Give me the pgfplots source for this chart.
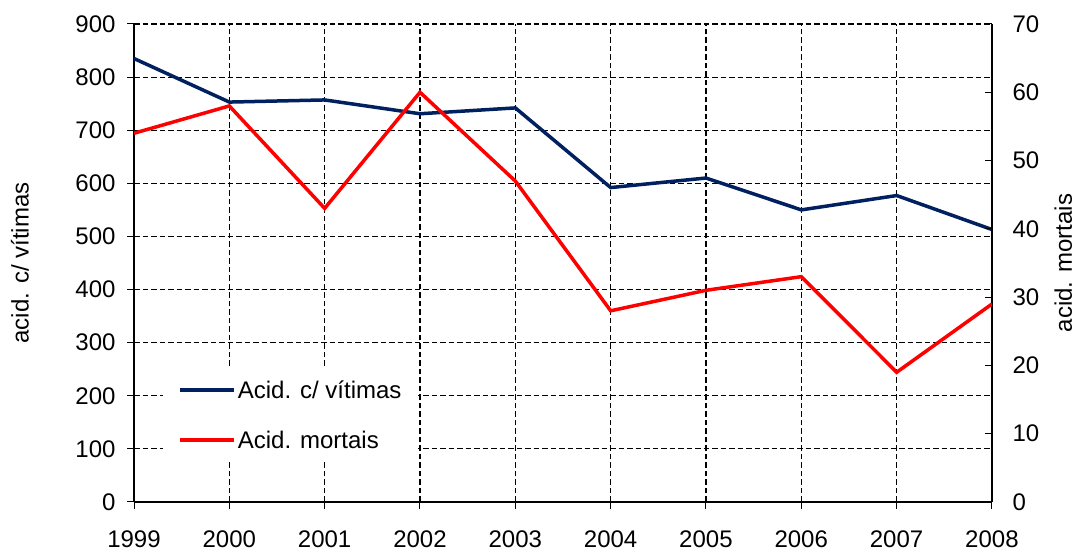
\documentclass[border=0pt]{standalone}
\usepackage{fontspec}
\setmainfont{Liberation Sans}
\usepackage{pgfplots}
\pgfplotsset{compat=1.18}
\definecolor{navy}{RGB}{0,32,96}
\begin{document}
\begin{tikzpicture}
\pgfplotsset{every axis/.append style={font=\fontsize{24}{28}\selectfont,
  /pgf/number format/assume math mode=true}}
\begin{axis}[name=ax,
  scale only axis, width=858pt, height=478pt,
  xmin=1999, xmax=2008, ymin=0, ymax=900,
  xtick={1999,...,2008}, ytick={0,100,...,900},
  xticklabel style={/pgf/number format/1000 sep={}, yshift=-18pt},
  yticklabel style={xshift=-8pt},
  axis x line=bottom, axis y line=left,
  axis line style={-, line width=1.3pt},
  tick align=outside, major tick length=7pt,
  tick style={black, line width=1pt},
  xmajorgrids, ymajorgrids,
  grid style={black, line width=1.2pt, dash pattern=on 5.5pt off 3pt},
  ylabel={acid. c/ vítimas},
  ylabel style={at={(axis description cs:-0.133,0.5)}, anchor=center},
]
\addplot[navy, line width=3.5pt] coordinates {
(1999,835) (2000,753) (2001,757) (2002,731) (2003,742)
(2004,592) (2005,610) (2006,550) (2007,577) (2008,513)};
\end{axis}
\begin{axis}[
  scale only axis, width=858pt, height=478pt,
  xmin=1999, xmax=2008, ymin=0, ymax=70,
  ytick={0,10,...,70},
  axis x line=none, axis y line=right,
  axis line style={-, line width=1.3pt},
  tick align=inside, major tick length=7pt,
  tick style={black, line width=1pt},
  yticklabel style={xshift=17pt},
  ylabel={acid. mortais},
  ylabel style={at={(axis description cs:1.083,0.5)}, anchor=center},
  legend style={at={(axis description cs:0.034,0.084)}, anchor=south west,
    draw=none, fill=white, inner xsep=15pt, inner ysep=10pt, row sep=27pt,
    nodes={inner sep=2pt}},
  legend cell align=left,
  legend image code/.code={\draw[#1] (0pt,0pt) -- (54pt,0pt);},
]
\addlegendimage{navy, line width=3.5pt}
\addlegendentry{Acid. c/ vítimas}
\addplot[red, line width=3.5pt] coordinates {
(1999,54) (2000,58) (2001,43) (2002,60) (2003,47)
(2004,28) (2005,31) (2006,33) (2007,19) (2008,29)};
\addlegendentry{Acid. mortais}
\end{axis}
\pgfresetboundingbox
\path[use as bounding box] ([shift={(-134pt,-51pt)}]ax.south west) rectangle ([shift={(85pt,24pt)}]ax.north east);
\end{tikzpicture}
\end{document}
